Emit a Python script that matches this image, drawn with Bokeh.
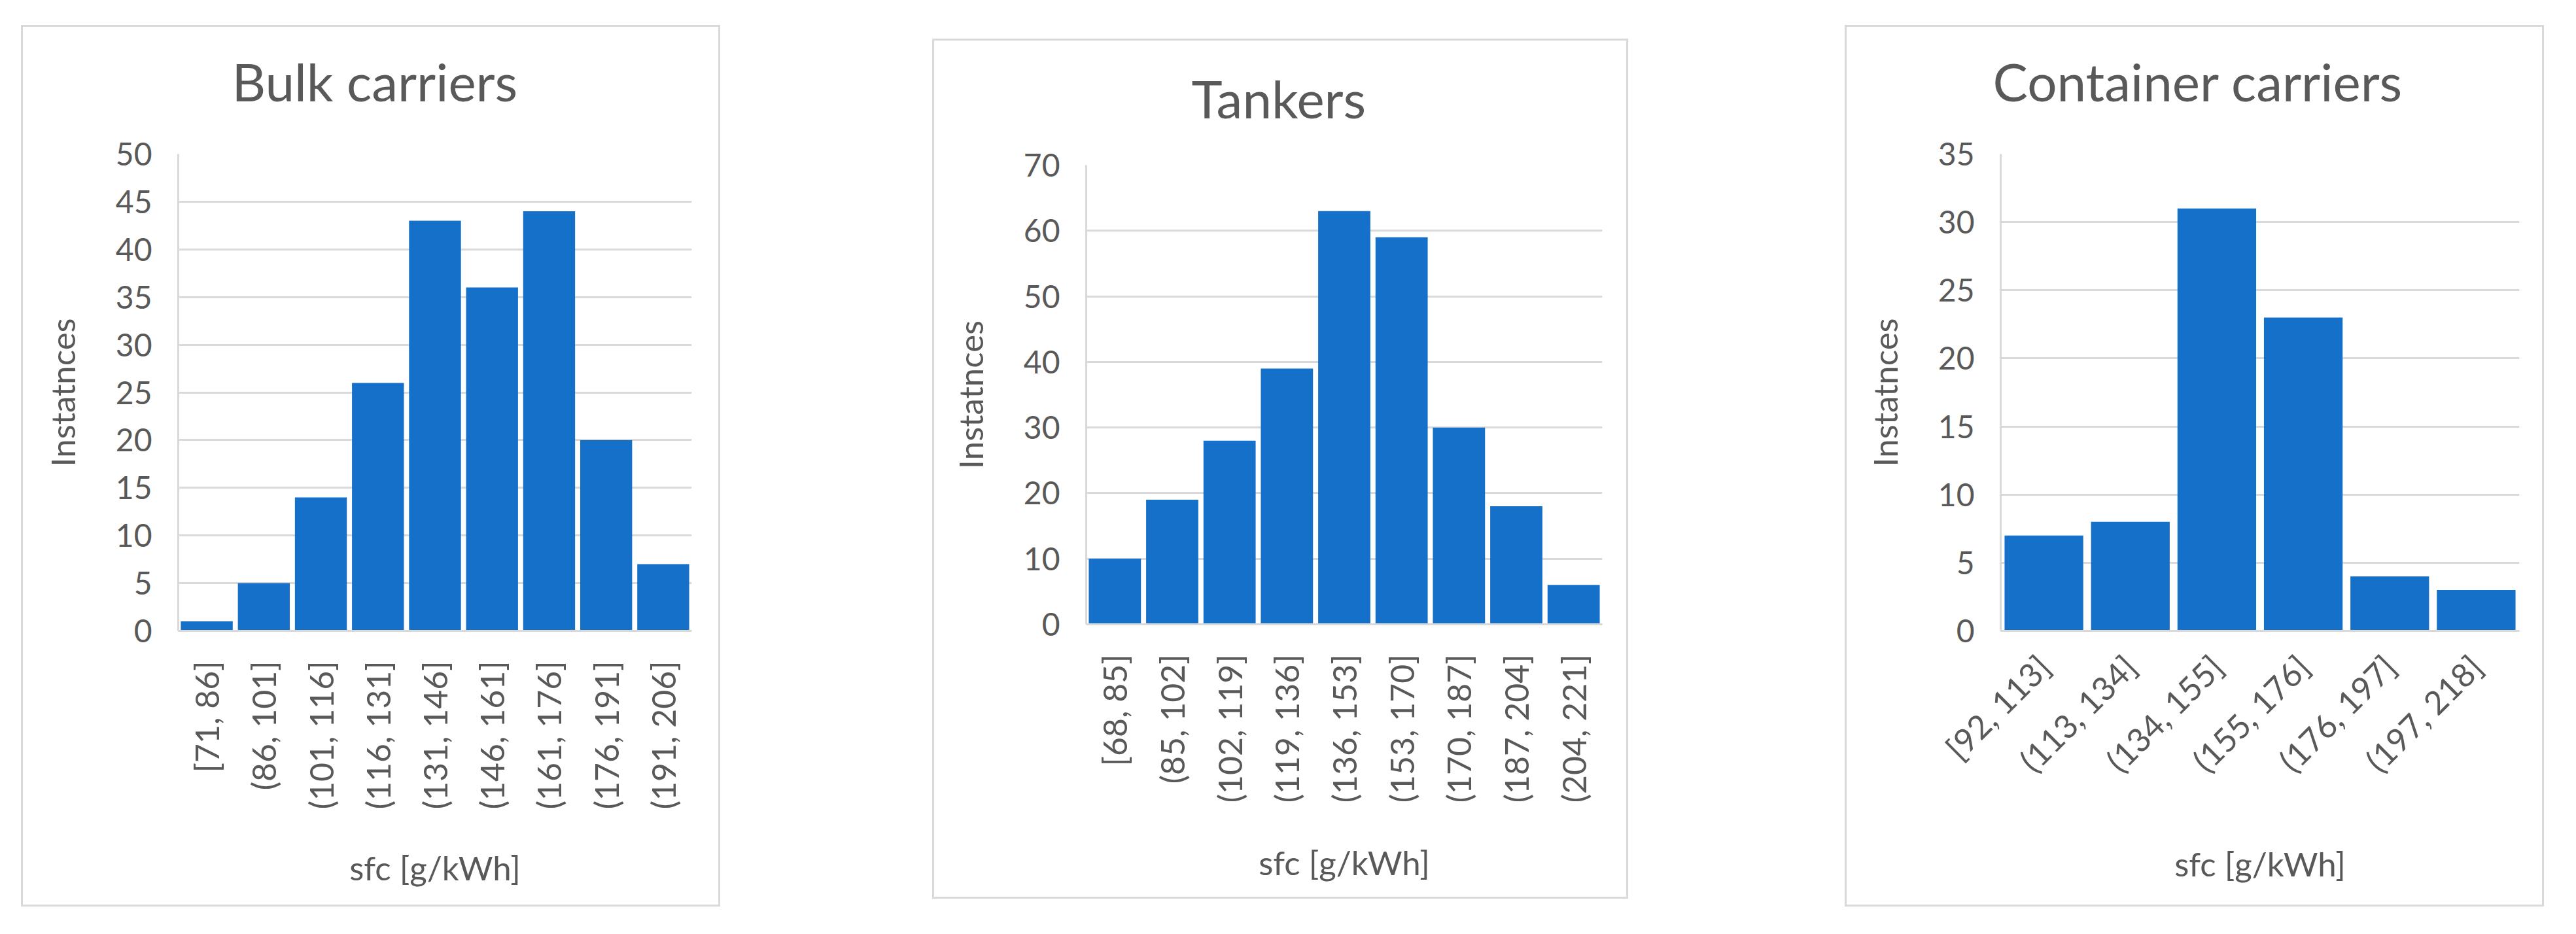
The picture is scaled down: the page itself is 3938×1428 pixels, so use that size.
import math
from bokeh.plotting import figure
from bokeh.models import FactorRange, Range1d, FixedTicker, Spacer
from bokeh.layouts import row, column
from bokeh.embed import file_html
from bokeh.resources import INLINE

# ---- data ----
bulk_title = "Bulk carriers"
bulk_bins = ["[71, 86]", "(86, 101]", "(101, 116]", "(116, 131]", "(131, 146]",
             "(146, 161]", "(161, 176]", "(176, 191]", "(191, 206]"]
bulk_counts = [1, 5, 14, 26, 43, 36, 44, 20, 7]
bulk_ticks = [0, 5, 10, 15, 20, 25, 30, 35, 40, 45, 50]

tanker_title = "Tankers"
tanker_bins = ["[68, 85]", "(85, 102]", "(102, 119]", "(119, 136]", "(136, 153]",
               "(153, 170]", "(170, 187]", "(187, 204]", "(204, 221]"]
tanker_counts = [10, 19, 28, 39, 63, 59, 30, 18, 6]
tanker_ticks = [0, 10, 20, 30, 40, 50, 60, 70]

container_title = "Container carriers"
container_bins = ["[92, 113]", "(113, 134]", "(134, 155]", "(155, 176]", "(176, 197]", "(197, 218]"]
container_counts = [7, 8, 31, 23, 4, 3]
container_ticks = [0, 5, 10, 15, 20, 25, 30, 35]

y_title = "Instatnces"
x_title = "sfc [g/kWh]"

FONT = "Lato"
TXT = "#595959"
BAR = "#1570CA"
GRID = "#D9D9D9"
D = 36  # extra canvas band above the panel border (room for the title)


def panel(title, bins, counts, ticks, W, H, fl, fr, ft, fb, angle, xstand, title_off, title_standoff):
    p = figure(width=W, height=H + D,
               x_range=FactorRange(*bins, range_padding=0),
               y_range=Range1d(ticks[0], ticks[-1]),
               output_backend="svg", toolbar_location=None,
               min_border_left=fl, min_border_right=fr,
               min_border_top=ft + D, min_border_bottom=fb)
    p.styles = {"box-shadow": (f"inset 0 {D}px 0 0 #ffffff, inset 0 {D + 3}px 0 0 {GRID}, "
                               f"inset 3px 0 0 0 {GRID}, inset -3px 0 0 0 {GRID}, "
                               f"inset 0 -3px 0 0 {GRID}")}
    p.outline_line_color = None
    p.background_fill_color = None
    p.border_fill_color = None

    p.vbar(x=bins, top=counts, width=0.91, fill_color=BAR, line_color=None)

    p.xgrid.visible = False
    p.ygrid.grid_line_color = GRID
    p.ygrid.grid_line_width = 3

    p.yaxis.ticker = FixedTicker(ticks=ticks)
    for ax in (p.xaxis[0], p.yaxis[0]):
        ax.axis_line_color = GRID
        ax.axis_line_width = 3
        ax.major_tick_line_color = None
        ax.minor_tick_line_color = None
        ax.major_tick_out = 0
        ax.major_tick_in = 0
        ax.major_label_text_font = FONT
        ax.major_label_text_color = TXT
        ax.axis_label_text_font = FONT
        ax.axis_label_text_color = TXT
        ax.axis_label_text_font_size = "51px"
        ax.axis_label_text_font_style = "normal"

    p.yaxis.major_label_text_font_size = "48px"
    p.xaxis.major_label_text_font_size = "50px"
    p.yaxis.major_label_standoff = 40
    p.yaxis.axis_label = y_title
    p.yaxis.axis_label_standoff = 48

    p.xaxis.major_label_orientation = angle
    p.xaxis.major_label_standoff = 46
    p.xaxis.axis_label = x_title
    p.xaxis.axis_label_standoff = xstand

    p.title.text = title
    p.title.align = "left"
    p.title.offset = title_off
    p.title.vertical_align = "bottom"
    p.title.standoff = title_standoff
    p.title.text_font = FONT
    p.title.text_font_size = "80px"
    p.title.text_font_style = "normal"
    p.title.text_color = TXT
    return p


p1 = panel(bulk_title, bulk_bins, bulk_counts, bulk_ticks,
           1069, 1348, 240, 44, 197, 422, math.pi / 2, 56, 82, 128)
p2 = panel(tanker_title, tanker_bins, tanker_counts, tanker_ticks,
           1064, 1315, 235, 40, 193, 420, math.pi / 2, 58, 161, 110)
p3 = panel(container_title, container_bins, container_counts, container_ticks,
           1069, 1348, 238, 38, 197, 422, math.pi / 4, 74, -12, 128)

layout = row(
    Spacer(width=32, height=10),
    column(Spacer(width=10, height=38 - D), p1),
    Spacer(width=324, height=10),
    column(Spacer(width=10, height=59 - D), p2),
    Spacer(width=331, height=10),
    column(Spacer(width=10, height=38 - D), p3),
)

open("out.html", "w").write(file_html(layout, INLINE))
